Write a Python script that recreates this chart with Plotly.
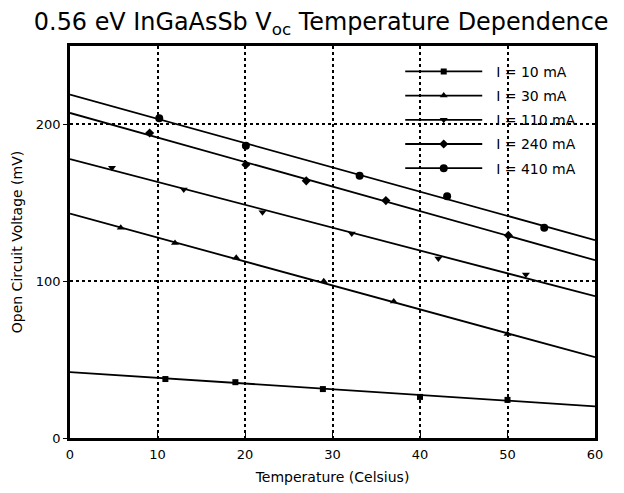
import plotly.graph_objects as go

# ---- data ----
series_names = ["I = 10 mA", "I = 30 mA", "I = 110 mA", "I = 240 mA", "I = 410 mA"]

t_10 = [10.9, 18.9, 28.9, 40.0, 50.0]
v_10 = [37.6, 35.6, 31.2, 26.2, 24.3]

t_30 = [5.8, 12.0, 19.0, 29.0, 37.0, 50.0]
v_30 = [134.1, 124.4, 114.9, 100.0, 87.0, 66.4]

t_110 = [4.8, 13.0, 22.0, 32.2, 42.1, 52.1]
v_110 = [172.4, 158.5, 143.9, 130.4, 114.4, 104.2]

t_240 = [9.1, 20.1, 27.0, 36.1, 50.1]
v_240 = [194.5, 174.3, 164.0, 151.4, 129.2]

t_410 = [10.2, 20.1, 33.1, 43.1, 54.2]
v_410 = [203.9, 186.4, 167.2, 154.2, 134.1]

# linear-fit lines: temperature span and fitted voltage at its ends
fit_t = [0, 60]
fit_v_10 = [42.0, 20.2]
fit_v_30 = [143.1, 51.5]
fit_v_110 = [177.9, 90.4]
fit_v_240 = [207.3, 113.4]
fit_v_410 = [219.0, 126.2]

x_ticks = [0, 10, 20, 30, 40, 50, 60]
y_ticks = [0, 100, 200]

# ---- figure ----
point_sets = [(t_10, v_10), (t_30, v_30), (t_110, v_110), (t_240, v_240), (t_410, v_410)]
fit_sets = [fit_v_10, fit_v_30, fit_v_110, fit_v_240, fit_v_410]
symbols = ["square", "triangle-up", "triangle-down", "diamond", "circle"]
sizes = [6, 7, 7, 7, 8]

FONT = "DejaVu Sans, Liberation Sans, Arial, sans-serif"
PAD = "\u00a0\u00a0"  # small visual gap between legend line and label

fig = go.Figure()
for i, name in enumerate(series_names):
    t, v = point_sets[i]
    fig.add_trace(go.Scatter(
        x=fit_t, y=fit_sets[i], mode="lines",
        line=dict(color="black", width=1.8),
        showlegend=False, hoverinfo="skip"))
    fig.add_trace(go.Scatter(
        x=t, y=v, mode="markers",
        marker=dict(symbol=symbols[i], size=sizes[i], color="black"),
        showlegend=False, name=name))
    # legend entry (line with marker in the middle)
    fig.add_trace(go.Scatter(
        x=[None], y=[None], mode="lines+markers", name=PAD + name,
        legendgroup=name,
        line=dict(color="black", width=1.8),
        marker=dict(symbol=symbols[i], size=sizes[i], color="black")))

# the page puts the figure 8px in from the top-left corner
fig.update_layout(
    width=616, height=485,
    margin=dict(l=62, r=29, t=38, b=55),
    paper_bgcolor="white", plot_bgcolor="white",
    font=dict(family=FONT, color="black", size=13),
    title=dict(
        text="0.56 eV InGaAsSb V<sub>oc</sub> Temperature Dependence",
        x=0.042, xanchor="left", xref="container",
        y=0.99, yanchor="top", yref="container",
        font=dict(size=23.9)),
    showlegend=True,
    legend=dict(
        x=0.629, xanchor="left", y=0.975, yanchor="top",
        bgcolor="rgba(0,0,0,0)", borderwidth=0,
        font=dict(size=14), itemwidth=77,
        tracegroupgap=3, traceorder="grouped"),
)
fig.update_xaxes(
    range=[0, 60], tickvals=x_ticks, ticktext=[str(v) for v in x_ticks],
    showgrid=True, gridcolor="black", gridwidth=1.5, griddash="dot",
    showline=True, linecolor="black", linewidth=2.5, mirror=True,
    ticks="inside", ticklen=5, tickcolor="black", zeroline=False,
    automargin=False, ticklabelstandoff=3,
    title=dict(text="Temperature (Celsius)", font=dict(size=14), standoff=11),
    tickfont=dict(size=13))
fig.update_yaxes(
    range=[0, 250], tickvals=y_ticks, ticktext=[str(v) for v in y_ticks],
    showgrid=True, gridcolor="black", gridwidth=1.5, griddash="dot",
    showline=True, linecolor="black", linewidth=2.5, mirror=True,
    ticks="outside", ticklen=4, tickcolor="black", zeroline=False,
    automargin=False,
    title=dict(text="Open Circuit Voltage (mV)", font=dict(size=14), standoff=10),
    tickfont=dict(size=13))

fig.write_html("out.html")
